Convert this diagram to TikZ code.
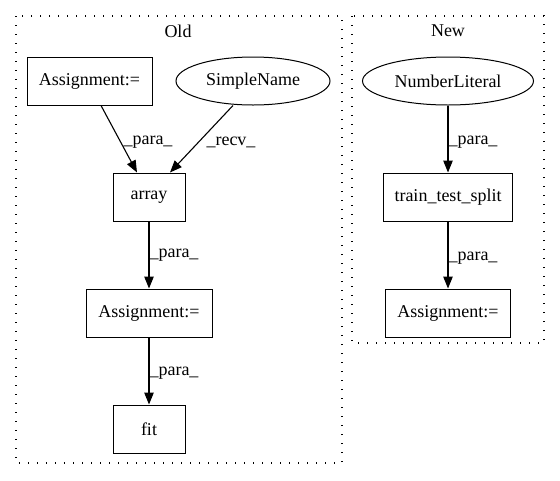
\documentclass[tikz,border=0pt]{standalone}
\usepackage{fontspec}
\setmainfont{Liberation Serif}
\usetikzlibrary{shapes.geometric,arrows.meta}

\begin{document}
\begin{tikzpicture}[x=1pt, y=-1pt,
    font=\fontsize{18}{20}\selectfont,
    box/.style={draw, line width=1pt, inner sep=0pt, minimum height=48pt},
    oval/.style={draw, ellipse, line width=1pt, inner sep=0pt, minimum height=48pt},
    cluster/.style={draw, line width=1.3pt, dash pattern=on 1.3pt off 7.7pt},
    edge/.style={line width=1.1pt, -{Triangle[length=12pt,width=9.5pt]}},
    lbl/.style={inner sep=0pt}]
    \useasboundingbox (0,0) rectangle (560,480);
    % clusters
    \draw[cluster] (16,16) rectangle (342,463);
    \draw[cluster] (352,16) rectangle (544,343);
    \node[lbl] (oldt) at (178,31) {Old};
    \node[lbl] (newt) at (448,31) {New};
    % old side
    \node[box, minimum width=125pt] (as1) at (89.5,81) {Assignment:=};
    \node[oval, minimum width=154pt] (sname) at (253,81) {SimpleName};
    \node[box, minimum width=72pt] (arr) at (149,197) {array};
    \node[box, minimum width=126pt] (as2) at (149,313) {Assignment:=};
    \node[box, minimum width=72pt] (fit) at (149,429) {fit};
    \draw[edge] ([xshift=11.5pt]as1.south) -- ([xshift=-12pt]arr.north);
    \draw[edge] ([xshift=-20pt]sname.south) -- ([xshift=21pt]arr.north);
    \draw[edge] (arr) -- (as2);
    \draw[edge] (as2) -- (fit);
    \node[lbl] (l1) at (148,142) {\_para\_};
    \node[lbl] (l2) at (231,142) {\_recv\_};
    \node[lbl] (l3) at (174,255) {\_para\_};
    \node[lbl] (l4) at (174,373) {\_para\_};
    % new side
    \node[oval, minimum width=171pt] (numlit) at (448,81) {NumberLiteral};
    \node[box, minimum width=129pt] (tts) at (448,197) {train\_test\_split};
    \node[box, minimum width=125pt] (as3) at (448,313) {Assignment:=};
    \draw[edge] (numlit) -- (tts);
    \draw[edge] (tts) -- (as3);
    \node[lbl] (l5) at (473,142) {\_para\_};
    \node[lbl] (l6) at (473,258) {\_para\_};
\end{tikzpicture}
\end{document}
